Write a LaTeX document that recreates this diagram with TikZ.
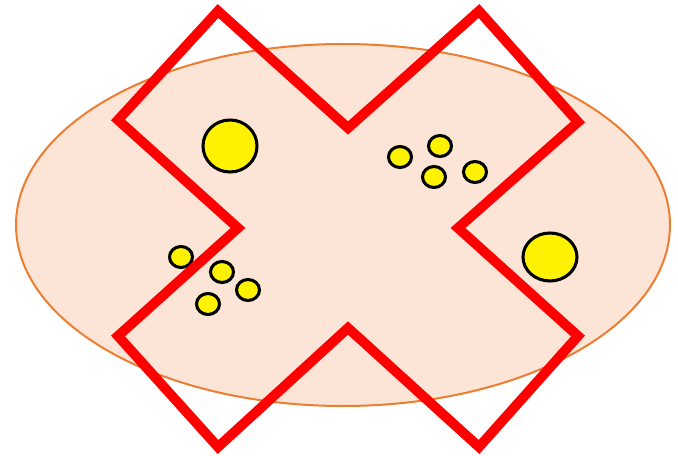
\documentclass[tikz,border=0pt]{standalone}
\usepackage{tikz}

\definecolor{peach}{HTML}{FCE4D6}
\definecolor{rim}{HTML}{ED7D31}

\begin{document}
\begin{tikzpicture}[
    x=0.75pt, y=-0.75pt,
    field/.style={draw=rim, fill=peach, line width=1.5pt},
    grain/.style={draw=black, fill=yellow, line width=2.3pt},
    cross/.style={draw=red, line width=7.4pt, miter limit=10},
]
\useasboundingbox (0,0) rectangle (678,456);

% --- Background field ---
\path[field] (343,225) ellipse [x radius=327, y radius=181];

% --- Large grains ---
\path[grain] (230,146) ellipse [x radius=27, y radius=26];
\path[grain] (550,257) ellipse [x radius=27, y radius=24];

% --- Small grains ---
\foreach \gx/\gy in {400/157, 440/146, 434/177, 475/172,
                     181/257, 222/272, 248/290, 208/304}
  \path[grain] (\gx,\gy) ellipse [x radius=11.5, y radius=10.5];

% --- Cross ---
\draw[cross] (218,11) -- (348,128) -- (479,11) -- (578,122)
  -- (458,228) -- (578,336) -- (479,447) -- (348,328)
  -- (218,447) -- (118,336) -- (238,228) -- (118,120) -- cycle;

\end{tikzpicture}
\end{document}
